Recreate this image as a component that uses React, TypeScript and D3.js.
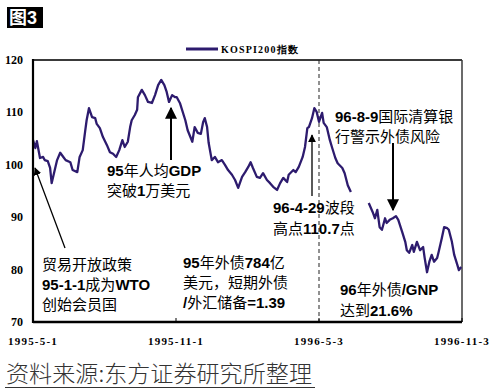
import React from "react";
import * as d3 from "d3";

// ---- data ----
const startDate = new Date(1995, 4, 1);
const endDate = new Date(1996, 10, 3);
const yTicks = [70, 80, 90, 100, 110, 120];
const xTickDates = [new Date(1995, 4, 1), new Date(1995, 10, 1), new Date(1996, 4, 3), new Date(1996, 10, 3)];
const xTickLabels = ["1995-5-1", "1995-11-1", "1996-5-3", "1996-11-3"];
const markerDate = new Date(1996, 4, 3);
const seriesName = "KOSPI200指数";

// days since 1995-5-1 and KOSPI200 values (first segment)
const seg1Days = [0,3,5,9,13,15,19,22,24,27,31,35,39,42,48,51,57,60,64,67,69,72,76,80,82,86,90,95,99,103,107,111,115,118,122,125,127,131,134,135,140,144,148,153,157,161,165,169,172,175,179,183,185,189,196,199,205,208,212,216,219,221,224,226,230,234,238,243,247,251,256,260,264,269,273,277,280,283,288,292,296,301,305,309,314,318,322,327,329,335,338,342,347,350,353,355,359,362,365,368,372,374,378,382,385,389,392,398,401,405,409];
const seg1Values = [104.7,103.2,104.5,101.3,101.5,100.9,100.7,99.4,96.5,98.4,100.9,102.3,101.5,100.9,100.5,99.0,98.6,101.5,102.8,106.3,108.5,110.8,109.1,108.9,107.8,107.0,105.3,103.8,102.4,102.1,101.5,102.8,104.7,103.4,104.4,107.2,108.5,109.5,110.5,112.9,114.3,113.3,112.0,111.8,113.3,115.2,116.2,115.2,113.9,112.0,113.3,112.9,112.9,111.8,108.5,106.6,104.4,107.2,106.1,105.9,108.2,108.9,107.2,104.2,100.9,101.5,100.5,100.9,100.0,99.0,98.1,97.1,95.6,97.7,98.6,99.6,100.5,99.4,97.7,97.5,98.4,97.1,96.5,95.8,95.2,96.5,97.5,96.7,98.1,99.0,98.6,99.6,101.5,103.4,107.0,107.2,108.9,110.8,110.1,108.2,109.9,108.0,107.2,104.7,103.2,101.3,100.3,99.4,98.4,96.1,94.8];
// second segment (after gap)
const seg2Days = [432,437,440,443,446,449,453,455,459,463,467,470,475,479,481,484,488,490,494,498,502,504,507,510,513,516,520,522,526,529,533,535,539,542,546,548,551];
const seg2Values = [92.7,91.0,89.8,91.4,88.1,87.6,89.8,88.9,89.5,89.8,90.2,89.5,87.2,85.3,83.7,83.2,84.7,83.4,85.3,83.7,84.3,82.2,79.5,81.5,82.8,81.5,82.2,83.4,86.0,88.1,87.9,87.6,85.3,82.8,80.9,79.9,80.5];

const LINE_COLOR = "#2d1b6e";
const ASCII_FONT = "'Liberation Sans', Arial, sans-serif";
const CJK_FONT = "'Noto Sans CJK SC', sans-serif";

function RichText({ x, y, text, size = 15 }: { x: number; y: number; text: string; size?: number }) {
  const runs: { s: string; ascii: boolean }[] = [];
  for (const ch of text) {
    const a = ch.charCodeAt(0) < 128;
    if (runs.length && runs[runs.length - 1].ascii === a) runs[runs.length - 1].s += ch;
    else runs.push({ s: ch, ascii: a });
  }
  return (
    <text x={x} y={y} fontSize={size} fill="#000">
      {runs.map((r, i) => (
        <tspan key={i} fontFamily={r.ascii ? ASCII_FONT : CJK_FONT} fontWeight={r.ascii ? "bold" : "normal"}>
          {r.s}
        </tspan>
      ))}
    </text>
  );
}

export default function App() {
  const W = 494, H = 391;
  const left = 33, right = 462, top = 60, bottom = 322;
  const x = d3.scaleTime().domain([startDate, endDate]).range([left, right]);
  const y = d3.scaleLinear().domain([70, 120]).range([bottom, top]);
  const toPts = (days: number[], vals: number[]) =>
    days.map((d, i) => ({ date: d3.timeDay.offset(startDate, d), v: vals[i] }));
  const line = d3
    .line<{ date: Date; v: number }>()
    .x((d) => x(d.date))
    .y((d) => y(d.v));
  const p1 = line(toPts(seg1Days, seg1Values)) || "";
  const p2 = line(toPts(seg2Days, seg2Values)) || "";
  const mx = x(markerDate);

  return (
    <svg width={W} height={H} style={{ position: "absolute", left: 0, top: 0, background: "#fff" }}>
      <defs>
        <marker id="ah" viewBox="0 0 10 10" refX="9" refY="5" markerWidth="6" markerHeight="6" orient="auto-start-reverse">
          <path d="M0,0 L10,5 L0,10 z" fill="#000" />
        </marker>
      </defs>
      <rect width={W} height={H} fill="#fff" />
      {/* title badge */}
      <rect x={7} y={7} width={36} height={21} fill="#000" />
      <text x={9} y={24} fill="#fff" fontSize={18} fontWeight="bold">
        <tspan fontFamily={CJK_FONT}>图</tspan>
        <tspan fontFamily={ASCII_FONT}>3</tspan>
      </text>

      {/* legend */}
      <line x1={186} x2={218} y1={49} y2={49} stroke={LINE_COLOR} strokeWidth={3} />
      <text x={221} y={53} fontSize={10} fontWeight="bold" fontFamily="'Liberation Serif', serif" letterSpacing={1.2} fill="#000">
        {seriesName}
      </text>

      {/* frame */}
      <line x1={left} x2={right} y1={top} y2={top} stroke="#3a3a3a" strokeWidth={2} />
      <line x1={right} x2={right} y1={top} y2={bottom} stroke="#3a3a3a" strokeWidth={1.5} />

      {/* dashed marker */}
      <line x1={mx} x2={mx} y1={top} y2={bottom} stroke="#222" strokeWidth={1} strokeDasharray="4,3" />

      {/* series */}
      <path d={p1} fill="none" stroke={LINE_COLOR} strokeWidth={2.3} strokeLinejoin="round" />
      <path d={p2} fill="none" stroke={LINE_COLOR} strokeWidth={2.3} strokeLinejoin="round" />

      {/* axes */}
      <line x1={left} x2={left} y1={top - 1} y2={bottom + 1} stroke="#000" strokeWidth={2.2} />
      <line x1={left} x2={right} y1={bottom} y2={bottom} stroke="#000" strokeWidth={2.5} />
      {xTickDates.map((d, i) => (
        <g key={i}>
          <line x1={x(d)} x2={x(d)} y1={bottom} y2={bottom - 4} stroke="#000" strokeWidth={1} />
          <text x={x(d)} y={345} textAnchor="middle" fontSize={11} fontWeight="bold" fontFamily="'Liberation Serif', serif" letterSpacing={1.2} fill="#000">
            {xTickLabels[i]}
          </text>
        </g>
      ))}
      {yTicks.map((t) => (
        <text key={t} x={23} y={y(t) + 4} textAnchor="end" fontSize={12} fontWeight="bold" fontFamily="'Liberation Serif', serif" fill="#000">
          {t}
        </text>
      ))}

      {/* annotations */}
      <line x1={65} y1={248} x2={35} y2={168} stroke="#000" strokeWidth={1.3} markerEnd="url(#ah)" />
      <RichText x={42} y={270} text="贸易开放政策" />
      <RichText x={42} y={290} text="95-1-1成为WTO" />
      <RichText x={42} y={310} text="创始会员国" />

      <line x1={171} y1={160} x2={171} y2={108} stroke="#000" strokeWidth={2} markerEnd="url(#ah)" />
      <RichText x={107} y={175.5} text="95年人均GDP" />
      <RichText x={107} y={195.5} text="突破1万美元" />

      <RichText x={183} y={267.5} text="95年外债784亿" />
      <RichText x={183} y={287.5} text="美元，短期外债" />
      <RichText x={183} y={307.5} text="/外汇储备=1.39" />

      <line x1={312} y1={196} x2={312} y2={135} stroke="#000" strokeWidth={1.3} markerEnd="url(#ah)" />
      <RichText x={273} y={213} text="96-4-29波段" />
      <RichText x={273} y={234} text="高点110.7点" />

      <line x1={393} y1={143} x2={393} y2={210} stroke="#000" strokeWidth={2} markerEnd="url(#ah)" />
      <RichText x={335} y={122} text="96-8-9国际清算银" />
      <RichText x={335} y={142} text="行警示外债风险" />

      <RichText x={340} y={295} text="96年外债/GNP" />
      <RichText x={340} y={316} text="达到21.6%" />

      {/* footer */}
      <text x={6} y={382} fontSize={23} fontFamily={CJK_FONT} fontWeight={300} fill="#333" textLength={306} lengthAdjust="spacingAndGlyphs">
        资料来源:东方证券研究所整理
      </text>
      <line x1={5} x2={315} y1={387.5} y2={387.5} stroke="#333" strokeWidth={1} />
    </svg>
  );
}
